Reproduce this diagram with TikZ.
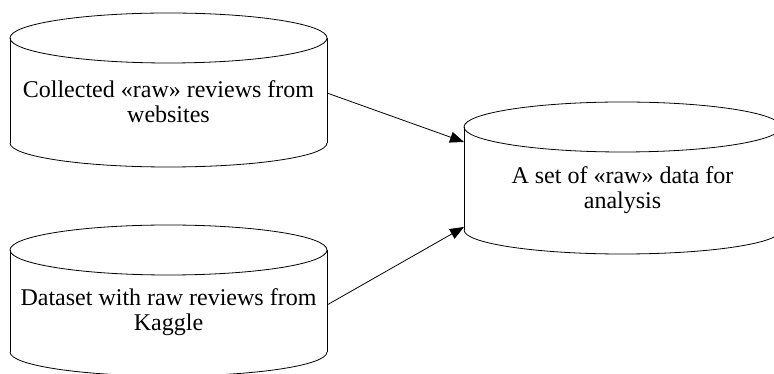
\documentclass[tikz,border=0pt]{standalone}
\usepackage{fontspec}
\setmainfont{Liberation Serif}
\usetikzlibrary{arrows.meta,calc}

\tikzset{
  body/.style={rectangle, minimum width=317pt, inner sep=0pt, outer sep=0pt},
  label/.style={align=center, font=\fontsize{24}{25}\selectfont, inner sep=0pt},
  outline/.style={draw=black, line width=0.8pt},
  flow/.style={draw=black, line width=0.8pt, -{Triangle[length=14pt,width=11pt]}}
}

% draws a cylinder around a body node: top ellipse, two sides, lower half ellipse
\newcommand{\drum}[3]{% node name, top radius y, bottom radius y
  \path[outline] (#1.north) ellipse [x radius=158.5pt, y radius=#2];
  \path[outline] (#1.north west) -- (#1.south west);
  \path[outline] (#1.north east) -- (#1.south east);
  \path[outline] (#1.south west) arc [start angle=180, end angle=360, x radius=158.5pt, y radius=#3];
}

\begin{document}
\begin{tikzpicture}[x=1pt, y=1pt]
  \useasboundingbox (0,0) rectangle (774,374);
  \clip (0,0) rectangle (774,374);

  % cylinder bodies
  \node[body, minimum height=105pt] (c1) at (168.5,283.5) {};
  \node[body, minimum height=102pt] (c2) at (168.5,73) {};
  \node[body, minimum height=103pt] (c3) at (622.5,195.5) {};

  \drum{c1}{25pt}{24pt}
  \drum{c2}{25pt}{24pt}
  \drum{c3}{25pt}{24pt}

  % captions
  \node[label] (t1) at (168.5,272) {Collected «raw» reviews from\\websites};
  \node[label] (t2) at (168.5,61.5) {Dataset with raw reviews from\\Kaggle};
  \node[label] (t3) at (622.5,184) {A set of «raw» data for\\analysis};

  % flows into the combined store
  \draw[flow] ([yshift=-2.5pt]c1.east) -- ([yshift=-15pt]c3.north west);
  \draw[flow] ([yshift=-4pt]c2.east) -- ([yshift=3pt]c3.south west);
\end{tikzpicture}
\end{document}
